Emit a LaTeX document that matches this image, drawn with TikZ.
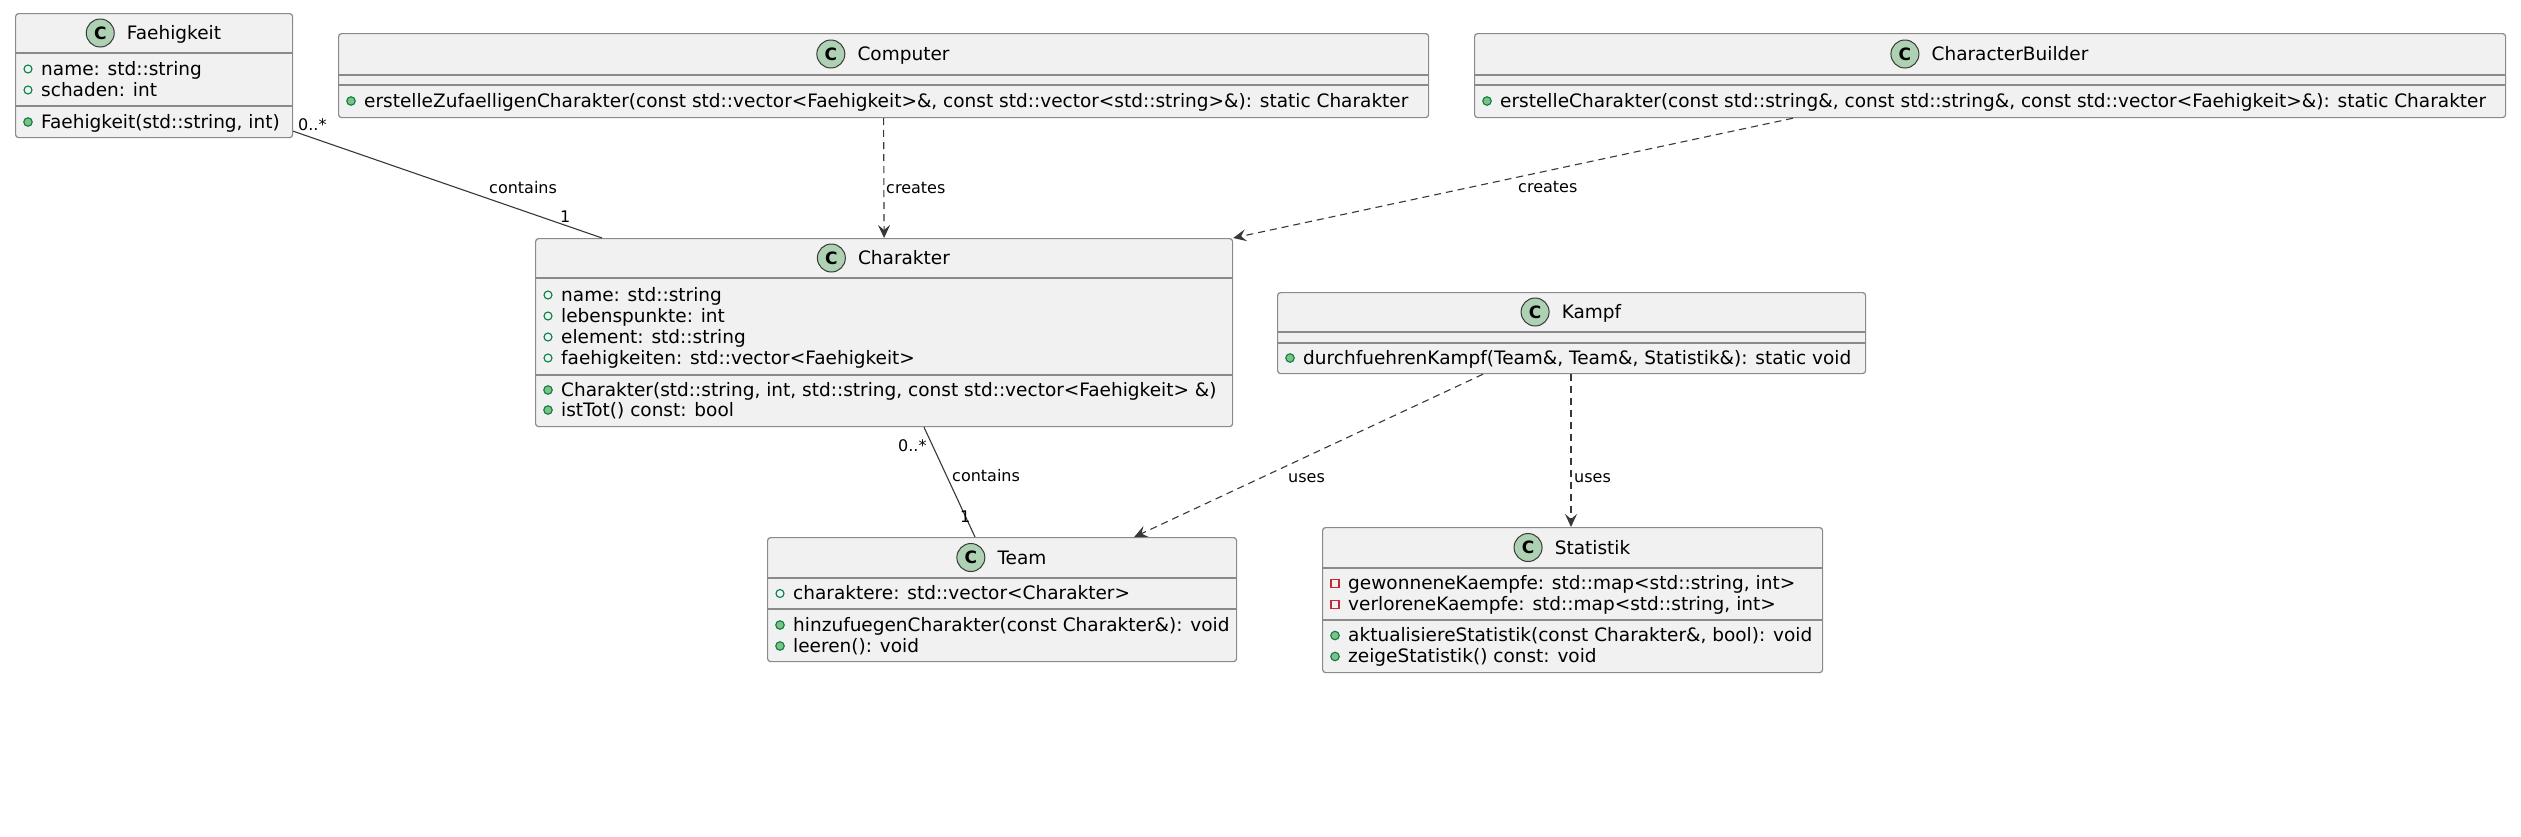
\documentclass[tikz,border=0pt]{standalone}
\usepackage{fontspec}
\setmainfont{DejaVu Sans}
\usetikzlibrary{arrows.meta,calc}
\definecolor{boxfill}{HTML}{F1F1F1}
\definecolor{boxline}{HTML}{8A8A8A}
\definecolor{edgecol}{HTML}{383838}
\definecolor{cgreen}{HTML}{ADD1B2}
\definecolor{publine}{HTML}{038048}
\definecolor{pubfill}{HTML}{84BE84}
\definecolor{privline}{HTML}{C82930}
\tikzset{
  classbox/.style={draw=boxline, fill=boxfill, line width=1.2pt, rounded corners=3pt, inner sep=0pt, anchor=north west},
  sepline/.style={draw=boxline, line width=1.2pt},
  rowtext/.style={anchor=base west, inner sep=0pt, font=\fontsize{18.5}{22}\selectfont},
  titletext/.style={anchor=base, inner sep=0pt, font=\fontsize{18.5}{22}\selectfont},
  cicon/.style={circle, draw=edgecol, fill=cgreen, line width=1pt, minimum size=28pt, inner sep=0pt, font=\bfseries\fontsize{17}{17}\selectfont},
  pubfield/.style={circle, draw=publine, line width=1.1pt, minimum size=8pt, inner sep=0pt},
  pubmethod/.style={circle, draw=publine, fill=pubfill, line width=1.1pt, minimum size=8.5pt, inner sep=0pt},
  privfield/.style={rectangle, draw=privline, line width=1.1pt, minimum size=8pt, inner sep=0pt},
  elabel/.style={anchor=base west, inner sep=0pt, font=\fontsize{16}{19}\selectfont},
  assoc/.style={draw=edgecol, line width=1.1pt},
  dep/.style={draw=edgecol, line width=1.1pt, dash pattern=on 7pt off 5pt, -{Stealth[length=13pt,width=12pt,inset=5pt]}},
}
\newcommand\umlrow[5]{%
  \node[#2] (#1-i) at (#3+13, #4) {};
  \node[rowtext] (#1) at (#3+26, #4+6) {#5};
}
\newcommand\umltitle[4]{%
  \node[titletext] (#1) at (#2+20.5, #3+6.5) {#4};
  \node[cicon] (#1-c) at ([xshift=-26.5pt, yshift=6.5pt]#1.base west) {C};
}
\begin{document}
\begin{tikzpicture}[x=1pt, y=-1pt]
\useasboundingbox[fill=white] (0,0) rectangle (2521,836);

% ---------- Faehigkeit
\node[classbox, minimum width=277pt, minimum height=124pt] (fae) at (15,13) {};
\draw[sepline] (15,53) -- (292,53);
\draw[sepline] (15,106) -- (292,106);
\umltitle{fae-t}{153.5}{33}{Faehigkeit}
\umlrow{fae-f1}{pubfield}{15}{69}{name: std::string}
\umlrow{fae-f2}{pubfield}{15}{90}{schaden: int}
\umlrow{fae-m1}{pubmethod}{15}{122}{Faehigkeit(std::string, int)}

% ---------- Computer
\node[classbox, minimum width=1090pt, minimum height=84pt] (comp) at (338,33) {};
\draw[sepline] (338,75) -- (1428,75);
\draw[sepline] (338,85) -- (1428,85);
\umltitle{comp-t}{883}{54}{Computer}
\umlrow{comp-m1}{pubmethod}{338}{101}{erstelleZufaelligenCharakter(const std::vector<Faehigkeit>\&, const std::vector<std::string>\&): static Charakter}

% ---------- CharacterBuilder
\node[classbox, minimum width=1031pt, minimum height=84pt] (cb) at (1474,33) {};
\draw[sepline] (1474,75) -- (2505,75);
\draw[sepline] (1474,85) -- (2505,85);
\umltitle{cb-t}{1989.5}{54}{CharacterBuilder}
\umlrow{cb-m1}{pubmethod}{1474}{101}{erstelleCharakter(const std::string\&, const std::string\&, const std::vector<Faehigkeit>\&): static Charakter}

% ---------- Charakter
\node[classbox, minimum width=697pt, minimum height=188pt] (char) at (535,238) {};
\draw[sepline] (535,278) -- (1232,278);
\draw[sepline] (535,375) -- (1232,375);
\umltitle{char-t}{883.5}{258}{Charakter}
\umlrow{char-f1}{pubfield}{535}{295}{name: std::string}
\umlrow{char-f2}{pubfield}{535}{316}{lebenspunkte: int}
\umlrow{char-f3}{pubfield}{535}{337}{element: std::string}
\umlrow{char-f4}{pubfield}{535}{358}{faehigkeiten: std::vector<Faehigkeit>}
\umlrow{char-m1}{pubmethod}{535}{390}{Charakter(std::string, int, std::string, const std::vector<Faehigkeit> \&)}
\umlrow{char-m2}{pubmethod}{535}{410}{istTot() const: bool}

% ---------- Kampf
\node[classbox, minimum width=588pt, minimum height=81pt] (kampf) at (1277,292) {};
\draw[sepline] (1277,332) -- (1865,332);
\draw[sepline] (1277,343) -- (1865,343);
\umltitle{kampf-t}{1571}{312}{Kampf}
\umlrow{kampf-m1}{pubmethod}{1277}{358}{durchfuehrenKampf(Team\&, Team\&, Statistik\&): static void}

% ---------- Team
\node[classbox, minimum width=469pt, minimum height=124pt] (team) at (767,537) {};
\draw[sepline] (767,578) -- (1236,578);
\draw[sepline] (767,609) -- (1236,609);
\umltitle{team-t}{1001.5}{557.5}{Team}
\umlrow{team-f1}{pubfield}{767}{593.5}{charaktere: std::vector<Charakter>}
\umlrow{team-m1}{pubmethod}{767}{625}{hinzufuegenCharakter(const Charakter\&): void}
\umlrow{team-m2}{pubmethod}{767}{646}{leeren(): void}

% ---------- Statistik
\node[classbox, minimum width=500pt, minimum height=145pt] (stat) at (1322,527) {};
\draw[sepline] (1322,568) -- (1822,568);
\draw[sepline] (1322,620) -- (1822,620);
\umltitle{stat-t}{1572}{547.5}{Statistik}
\umlrow{stat-f1}{privfield}{1322}{583.5}{gewonneneKaempfe: std::map<std::string, int>}
\umlrow{stat-f2}{privfield}{1322}{604.5}{verloreneKaempfe: std::map<std::string, int>}
\umlrow{stat-m1}{pubmethod}{1322}{635.5}{aktualisiereStatistik(const Charakter\&, bool): void}
\umlrow{stat-m2}{pubmethod}{1322}{656.5}{zeigeStatistik() const: void}

% ---------- connectors
\draw[assoc] ([yshift=7pt]fae.south east) -- ([xshift=67pt]char.north west);
\draw[dep] (comp.south) -- (char.north);
\draw[dep] ([xshift=319pt]cb.south west) -- (char.north east);
\draw[assoc] ([xshift=389pt]char.south west) -- ([xshift=208pt]team.north west);
\draw[dep] ([xshift=206pt]kampf.south west) -- ([xshift=-103pt]team.north east);
\draw[dep] ([xshift=294pt]kampf.south west) -- ([xshift=249pt]stat.north west);

% ---------- labels
\node[elabel] (l1a) at (298,130) {0..*};
\node[elabel] (l1b) at (489,193) {contains};
\node[elabel] (l1c) at (560,222) {1};
\node[elabel] (l2) at (886,193) {creates};
\node[elabel] (l3) at (1518,192) {creates};
\node[elabel] (l4a) at (898,451) {0..*};
\node[elabel] (l4b) at (952,481) {contains};
\node[elabel] (l4c) at (960,522) {1};
\node[elabel] (l5) at (1288,482) {uses};
\node[elabel] (l6) at (1574,482) {uses};
\end{tikzpicture}
\end{document}
